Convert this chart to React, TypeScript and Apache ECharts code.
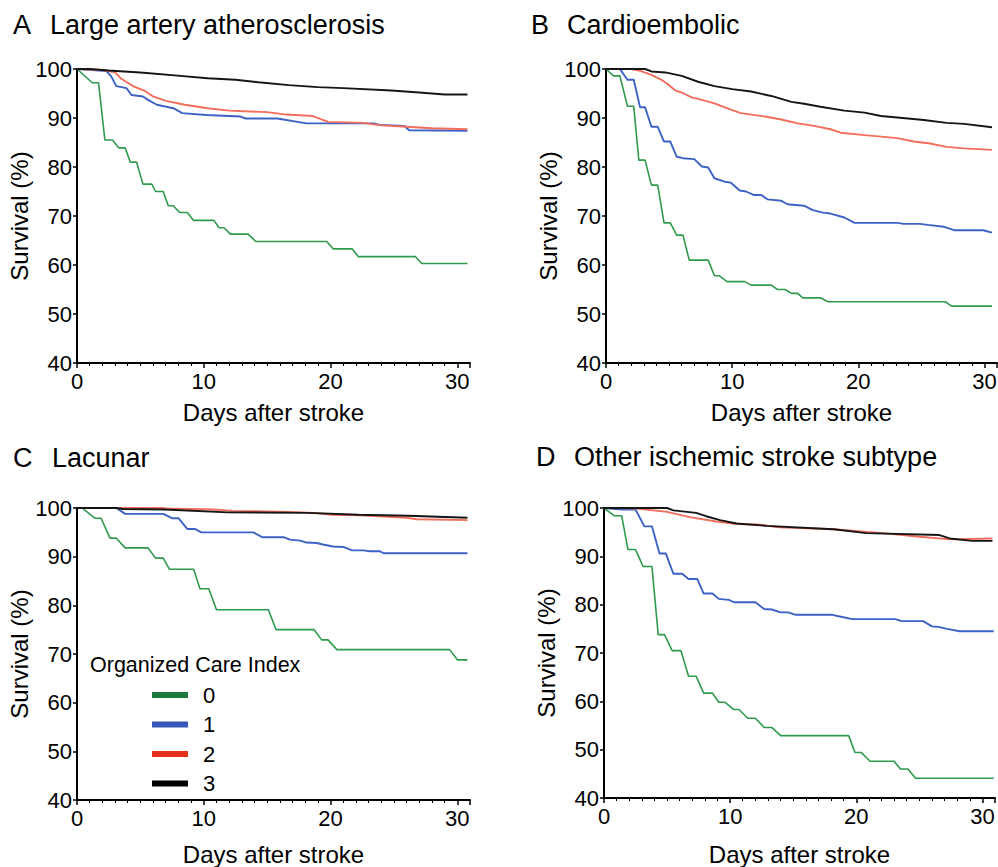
import React, { useEffect, useRef } from "react";
import * as echarts from "echarts";

// ---------- Data (days after stroke, survival %) ----------
const groupNames = ["0", "1", "2", "3"];
const lineColors = ["#2f9a4c", "#3d62c6", "#f36d5c", "#151515"];
const legendColors = ["#1c7a3e", "#3656b8", "#e8301f", "#000000"];
const panelLetters = ["A", "B", "C", "D"];
const panelTitles = ["Large artery atherosclerosis", "Cardioembolic", "Lacunar", "Other ischemic stroke subtype"];
const xTicks = [0, 10, 20, 30];
const yTicks = [40, 50, 60, 70, 80, 90, 100];

// Panel A – Large artery atherosclerosis
const A0 = [[0,100],[1.2,97.2],[1.7,97.2],[2.2,85.5],[2.8,85.5],[3.3,83.9],[3.8,83.9],[4.2,81],[4.7,81],[5.2,76.5],[5.9,76.5],[6.2,75],[6.8,75],[7.2,72.1],[7.6,72.1],[8.1,70.7],[8.7,70.7],[9.2,69.1],[10.8,69.1],[11.2,67.6],[11.6,67.6],[12.1,66.3],[13.5,66.3],[14.1,64.8],[19.7,64.8],[20.2,63.3],[21.7,63.3],[22.2,61.7],[26.7,61.7],[27.2,60.3],[30.8,60.3]];
const A1 = [[0,100],[2.3,99.6],[2.7,98.5],[3.1,96.5],[3.9,96.1],[4.3,94.7],[5.2,94.4],[5.6,93.7],[6.3,92.7],[7.6,92],[8.3,91],[10.2,90.6],[12.9,90.3],[13.3,89.9],[15.8,89.9],[18.1,88.9],[23.4,88.9],[23.9,88.6],[25.8,88.4],[26.2,87.5],[30.8,87.4]];
const A2 = [[0,100],[2,99.8],[3,99.3],[3.5,98],[4,97.2],[4.5,96.4],[5.3,95.6],[6,94.4],[7,93.5],[8.5,92.7],[10.3,92],[12,91.5],[15,91.2],[16.5,90.7],[18.6,90.4],[19.8,89.2],[22.5,89],[24,88.5],[26,88.2],[28,87.9],[30.8,87.7]];
const A3 = [[0,100],[1,100],[2.5,99.7],[5,99.3],[7.7,98.7],[10.3,98.1],[12.5,97.8],[14.3,97.3],[16.7,96.7],[19,96.3],[21,96.1],[24.8,95.6],[27,95.2],[29,94.8],[30.8,94.8]];

// Panel B – Cardioembolic
const B0 = [[0,100],[0.6,98.6],[1.1,98.6],[1.7,92.4],[2.2,92.4],[2.6,81.4],[3.1,81.4],[3.6,76.3],[4.1,76.3],[4.6,68.6],[5.1,68.6],[5.6,66.1],[6.1,66.1],[6.6,61],[8.1,61],[8.6,57.8],[9,57.8],[9.6,56.6],[11,56.6],[11.5,55.9],[13.1,55.9],[13.6,55],[14.2,55],[14.7,54.2],[15.2,54.2],[15.6,53.3],[17,53.3],[17.6,52.5],[26.9,52.5],[27.4,51.6],[30.6,51.6]];
const B1 = [[0,100],[1.1,100],[1.7,97.8],[2.2,97.8],[2.7,92.2],[3.1,92.2],[3.6,88.2],[4.1,88.2],[4.6,85.2],[5.1,85.2],[5.6,82.1],[6.1,81.8],[7,81.6],[7.6,80.1],[8.1,79.9],[8.6,77.7],[9.4,77],[9.9,76.8],[10.6,75.2],[11.1,75],[11.7,74.3],[12.3,74.3],[12.8,73.4],[13.9,73.1],[14.4,72.4],[15.7,72.1],[16.4,71.2],[17.2,70.7],[17.8,70.5],[18.9,69.7],[19.7,68.6],[23.1,68.6],[23.6,68.4],[24.9,68.4],[25.5,68.2],[26.8,67.8],[27.6,67.1],[29.9,67.1],[30.6,66.6]];
const B2 = [[0,100],[2,100],[2.6,99.7],[3.6,98.8],[4.4,97.8],[4.9,96.9],[5.5,95.6],[6,95.2],[6.8,94.2],[7.6,93.7],[8.6,93],[10,91.6],[10.7,91],[12.6,90.3],[13.9,89.7],[15.2,88.9],[16.5,88.4],[17.8,87.7],[18.6,87],[20.5,86.5],[21.8,86.2],[23.1,85.9],[24.4,85.2],[25.7,84.8],[27,84.1],[28.4,83.8],[30.6,83.5]];
const B3 = [[0,100],[3.1,100],[3.6,99.5],[4.7,99.3],[6,98.6],[7.3,97.4],[8.6,96.5],[10,95.9],[11.5,95.4],[13.1,94.5],[14.7,93.3],[15.7,92.9],[17,92.3],[18.9,91.5],[20.5,91.1],[21.8,90.4],[23.1,90.1],[25.2,89.6],[27,89],[28.4,88.8],[30.6,88.1]];

// Panel C – Lacunar
const C0 = [[0,100],[0.4,100],[1.4,97.9],[1.9,97.9],[2.6,93.8],[3.1,93.8],[3.8,91.8],[5.6,91.8],[6.2,89.7],[6.8,89.7],[7.3,87.4],[9.2,87.4],[9.7,83.4],[10.4,83.4],[11,79.1],[15.1,79.1],[15.7,75],[18.7,75],[19.3,72.9],[19.8,72.9],[20.5,70.9],[29.4,70.9],[30,68.8],[30.8,68.8]];
const C1 = [[0,100],[3.1,100],[3.8,98.8],[6.8,98.8],[7.5,97.9],[8,97.9],[8.7,95.7],[9.3,95.7],[9.8,95],[13.9,95],[14.6,94],[16.3,94],[16.8,93.5],[17.6,93.3],[18.1,92.9],[18.9,92.8],[19.4,92.5],[20.2,92.1],[21,92],[21.7,91.3],[22.6,91.3],[23.1,91.1],[23.9,91.1],[24.2,90.7],[30.8,90.7]];
const C2 = [[0,100],[6.8,100],[7,99.9],[10.8,99.7],[12.3,99.4],[16.7,99.2],[18.7,99],[20.1,98.6],[22.3,98.5],[26,98],[26.8,97.7],[30.8,97.5]];
const C3 = [[0,100],[3.1,100],[3.6,99.8],[6.9,99.7],[11.9,99.1],[18.2,99],[22.2,98.6],[26.1,98.4],[30.8,98]];

// Panel D – Other ischemic stroke subtype
const D0 = [[0,100],[0.8,98.4],[1.4,98.4],[1.9,91.4],[2.5,91.4],[3.1,87.9],[3.8,87.9],[4.3,73.8],[4.8,73.8],[5.4,70.5],[6.1,70.5],[6.7,65.2],[7.3,65.2],[7.9,61.7],[8.6,61.7],[9.1,59.8],[9.6,59.8],[10.3,58.3],[10.7,58.3],[11.4,56.5],[12,56.5],[12.7,54.6],[13.3,54.6],[14,52.9],[19.4,52.9],[19.9,49.4],[20.4,49.4],[21.1,47.6],[23,47.6],[23.5,46],[24.1,46],[24.7,44.1],[30.9,44.1]];
const D1 = [[0,100],[1.4,99.7],[2.5,99.7],[3.2,96.2],[3.8,96.2],[4.4,90.6],[4.9,90.6],[5.5,86.4],[6.2,86.4],[6.7,85.3],[7.4,85.3],[7.9,82.3],[8.6,82.3],[9.1,81.2],[9.9,81],[10.3,80.5],[12,80.5],[12.7,79.1],[13.3,79],[14,78.4],[14.6,78.4],[15.2,77.9],[18.1,77.9],[18.6,77.6],[19.7,77],[23.1,77],[23.6,76.6],[25.3,76.6],[26,75.5],[26.5,75.4],[27.2,75],[28.2,74.5],[30.9,74.5]];
const D2 = [[0,100],[1,100],[2.6,99.9],[5,99.2],[6.8,98.1],[8.9,97.2],[10.5,96.7],[12.2,96.6],[13.9,96],[18.2,95.6],[22.1,94.8],[24.8,94.1],[27.4,93.5],[30.8,93.7]];
const D3 = [[0,100],[5,100],[5.5,99.5],[7.3,99],[8.1,98.3],[9.2,97.5],[10.5,96.8],[12.9,96.3],[18.2,95.6],[20.8,94.8],[26.6,94.4],[27.4,93.7],[29.2,93.2],[30.8,93.2]];

const panelData = [[A0, A1, A2, A3], [B0, B1, B2, B3], [C0, C1, C2, C3], [D0, D1, D2, D3]];

// ---------- Layout (not data) ----------
const FONT = '"Liberation Sans", Arial, Helvetica, sans-serif';
const layout = [
  { left: 77, top: 69, width: 393, height: 294, letterX: 13, titleX: 50, titleY: 26, yGap: 40, xGap: 37 },
  { left: 606, top: 69, width: 391, height: 294, letterX: 531, titleX: 567, titleY: 26, yGap: 44, xGap: 37 },
  { left: 77, top: 508, width: 393, height: 292, letterX: 13, titleX: 52, titleY: 459, yGap: 40, xGap: 42 },
  { left: 604, top: 508, width: 391, height: 290, letterX: 536, titleX: 574, titleY: 458, yGap: 43, xGap: 44 },
];

export default function App() {
  const ref = useRef<HTMLDivElement>(null);
  useEffect(() => {
    if (!ref.current) return;
    const chart = echarts.init(ref.current, null, { renderer: "svg" });
    const grid = layout.map((l) => ({
      left: l.left, top: l.top, width: l.width, height: l.height,
      containLabel: false, outerBoundsMode: "none",
    }));
    const xAxis = layout.map((l, i) => ({
      type: "value", gridIndex: i, min: xTicks[0], max: 31, interval: 10,
      name: "Days after stroke", nameLocation: "middle", nameGap: l.xGap,
      nameTextStyle: { fontFamily: FONT, fontSize: 24, color: "#000" },
      axisLine: { show: true, lineStyle: { color: "#000", width: 2 } },
      axisTick: { show: true, length: 5, lineStyle: { color: "#000", width: 1.5 } },
      minorTick: { show: true, splitNumber: 10, length: 3, lineStyle: { color: "#000", width: 1 } },
      splitLine: { show: false },
      axisLabel: { fontFamily: FONT, fontSize: 22, color: "#000", margin: 7 },
    }));
    const yAxis = layout.map((l, i) => ({
      type: "value", gridIndex: i, min: yTicks[0], max: yTicks[yTicks.length - 1], interval: 10,
      name: "Survival (%)", nameLocation: "middle", nameGap: l.yGap, nameRotate: 90,
      nameTextStyle: { fontFamily: FONT, fontSize: 24, color: "#000" },
      axisLine: { show: true, lineStyle: { color: "#000", width: 2 } },
      axisTick: { show: true, length: 4, lineStyle: { color: "#000", width: 1.5 } },
      splitLine: { show: false },
      axisLabel: { fontFamily: FONT, fontSize: 22, color: "#000", margin: 5 },
    }));
    const series: any[] = [];
    panelData.forEach((curves, p) => {
      curves.forEach((data, k) => {
        series.push({
          type: "line", name: groupNames[k], xAxisIndex: p, yAxisIndex: p,
          data, symbol: "none", showSymbol: false, silent: true,
          lineStyle: { color: lineColors[k], width: k === 0 ? 1.6 : 1.9 },
          itemStyle: { color: lineColors[k] },
          z: 2 + k,
        });
      });
    });
    const graphic: any[] = [];
    layout.forEach((l, p) => {
      graphic.push({ type: "text", left: l.letterX, top: l.titleY - 15, style: { text: panelLetters[p], font: `27px ${FONT}`, fill: "#000" } });
      graphic.push({ type: "text", left: l.titleX, top: l.titleY - 15, style: { text: panelTitles[p], font: `27px ${FONT}`, fill: "#000" } });
    });
    graphic.push({ type: "text", left: 90, top: 654, style: { text: "Organized Care Index", font: `21.5px ${FONT}`, fill: "#000" } });

    chart.setOption({
      animation: false,
      grid, xAxis, yAxis, series, graphic,
      legend: {
        orient: "vertical", left: 147, top: 679, itemWidth: 36, itemHeight: 6, itemGap: 7.5,
        icon: "rect", selectedMode: false,
        data: groupNames.map((n, k) => ({ name: n, itemStyle: { color: legendColors[k] } })),
        textStyle: { fontFamily: FONT, fontSize: 22, color: "#000", lineHeight: 21, padding: [0, 0, 0, 10] },
      },
    });
    return () => chart.dispose();
  }, []);
  return <div ref={ref} style={{ position: "absolute", left: 0, top: 0, width: 998, height: 867, background: "#fff" }} />;
}
